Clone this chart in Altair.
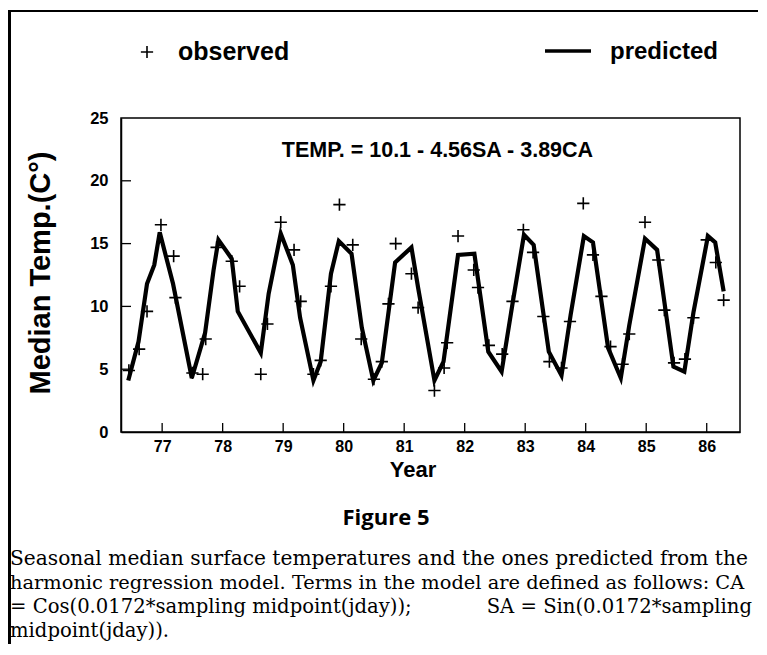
import altair as alt
import pandas as pd

# observed seasonal medians (year, temp)
obs_year = [76.45, 76.62, 76.75, 76.98, 77.19, 77.22, 77.50, 77.67, 77.72, 77.90,
            78.15, 78.28, 78.63, 78.74, 78.96, 79.18, 79.29, 79.50, 79.62, 79.79,
            79.93, 80.15, 80.29, 80.50, 80.63, 80.74, 80.86, 81.12, 81.23, 81.50,
            81.66, 81.71, 81.89, 82.15, 82.22, 82.40, 82.62, 82.79, 82.97, 83.13,
            83.30, 83.40, 83.60, 83.74, 83.96, 84.12, 84.26, 84.41, 84.61, 84.72,
            84.98, 85.20, 85.30, 85.46, 85.64, 85.78, 86.00, 86.15, 86.28]
obs_temp = [4.9, 6.6, 9.6, 16.5, 14.0, 10.7, 4.7, 4.6, 7.4, 14.7,
            13.6, 11.6, 4.6, 8.6, 16.7, 14.5, 10.4, 4.6, 5.7, 11.6,
            18.1, 14.9, 7.4, 4.2, 5.6, 10.2, 15.0, 12.6, 9.9, 3.3,
            5.1, 7.1, 15.6, 12.9, 11.5, 6.9, 6.2, 10.4, 16.1, 14.3,
            9.2, 5.6, 5.1, 8.8, 18.2, 14.1, 10.8, 6.8, 5.4, 7.8,
            16.7, 13.7, 9.7, 5.5, 5.8, 9.1, 15.3, 13.5, 10.5]

# predicted (harmonic regression) line vertices
pred_year = [76.44, 76.61, 76.75, 76.87, 76.96, 77.18, 77.49, 77.71, 77.85, 77.93,
             78.15, 78.25, 78.63, 78.76, 78.96, 79.16, 79.28, 79.50, 79.62, 79.79,
             79.92, 80.13, 80.30, 80.49, 80.63, 80.85, 81.12, 81.23, 81.50, 81.65,
             81.89, 82.16, 82.39, 82.61, 82.79, 82.98, 83.14, 83.39, 83.60, 83.75,
             83.97, 84.12, 84.37, 84.58, 84.72, 84.98, 85.18, 85.45, 85.63, 85.78,
             86.02, 86.14, 86.28]
pred_temp = [4.1, 7.2, 11.8, 13.3, 15.9, 11.8, 4.3, 7.9, 12.9, 15.3,
             13.8, 9.6, 6.3, 11.0, 15.8, 13.3, 9.1, 4.1, 5.6, 12.6,
             15.2, 14.2, 8.3, 4.1, 5.5, 13.5, 14.7, 11.5, 4.1, 5.6,
             14.1, 14.2, 6.4, 4.8, 10.2, 15.7, 14.9, 6.4, 4.5, 9.3,
             15.6, 15.1, 6.7, 4.3, 8.5, 15.4, 14.5, 5.2, 4.8, 9.5,
             15.6, 15.1, 11.2]

x_ticks = [77, 78, 79, 80, 81, 82, 83, 84, 85, 86]
y_ticks = [0, 5, 10, 15, 20, 25]
y_inner_ticks = [5, 10, 15, 20]

legend_labels = ["observed", "predicted"]
equation = "TEMP. = 10.1 - 4.56SA - 3.89CA"
x_title = "Year"
y_title = "Median Temp.(C°)"
fig_title = "Figure 5"
caption_lines = [
    "Seasonal median surface temperatures and the ones predicted from the",
    "harmonic regression model. Terms in the model are defined as follows: CA",
]
caption_l3a = "= Cos(0.0172*sampling midpoint(jday));"
caption_l3b = "SA = Sin(0.0172*sampling"
caption_l4 = "midpoint(jday))."

W, H = 619, 314
SANS = "Liberation Sans, Arial, Helvetica, sans-serif"
SERIF = "DejaVu Serif, serif"

obs_df = pd.DataFrame({"year": obs_year, "temp": obs_temp})
pred_df = pd.DataFrame({"year": pred_year, "temp": pred_temp})

xs = alt.Scale(domain=[76.32, 86.55], nice=False, zero=False)
ys = alt.Scale(domain=[0, 25], nice=False)

x_axis = alt.Axis(values=x_ticks, format="d", ticks=False, labelPadding=6,
                  labelFontSize=16, labelFontWeight="bold", labelFont=SANS,
                  labelColor="black", domainColor="black", domainWidth=1.5,
                  grid=False, title=None)
y_axis = alt.Axis(values=y_ticks, format="d", ticks=False, labelPadding=13,
                  labelFontSize=16.5, labelFontWeight="bold", labelFont=SANS,
                  labelColor="black", domainColor="black", domainWidth=1.5,
                  grid=False, title=None)

line = alt.Chart(pred_df).mark_line(color="black", strokeWidth=4.2, strokeJoin="miter").encode(
    x=alt.X("year:Q", scale=xs, axis=x_axis),
    y=alt.Y("temp:Q", scale=ys, axis=y_axis),
)

plus_shape = "M -1 0 L 1 0 M 0 -1 L 0 1"
points = alt.Chart(obs_df).mark_point(shape=plus_shape, size=150, color="black",
                                      strokeWidth=1.6, filled=False, opacity=1).encode(
    x=alt.X("year:Q", scale=xs),
    y=alt.Y("temp:Q", scale=ys),
)

xt = alt.Chart(pd.DataFrame({"v": x_ticks})).mark_rule(color="black", strokeWidth=1.3).encode(
    x=alt.X("v:Q", scale=xs), y=alt.value(H), y2=alt.value(H - 9))
yt = alt.Chart(pd.DataFrame({"v": y_inner_ticks})).mark_rule(color="black", strokeWidth=1.3).encode(
    y=alt.Y("v:Q", scale=ys), x=alt.value(0), x2=alt.value(10))

eq = alt.Chart(pd.DataFrame({"t": [equation], "x": [81.55], "y": [22.4]})).mark_text(
    font=SANS, fontSize=21.5, fontWeight="bold", color="black", align="center", baseline="middle"
).encode(x=alt.X("x:Q", scale=xs), y=alt.Y("y:Q", scale=ys), text="t:N")

one = pd.DataFrame({"a": [0]})

def txt(s, x, y, size, font=SANS, weight="bold", align="left", angle=0):
    return alt.Chart(one).mark_text(text=s, font=font, fontSize=size, fontWeight=weight,
                                    color="black", align=align, baseline="middle",
                                    angle=angle).encode(x=alt.value(x), y=alt.value(y))

leg_plus = alt.Chart(one).mark_point(shape=plus_shape, size=150, color="black",
                                     strokeWidth=1.6, filled=False, opacity=1).encode(
    x=alt.value(26), y=alt.value(-66))
leg_line = alt.Chart(one).mark_rule(color="black", strokeWidth=3.5).encode(
    x=alt.value(424), x2=alt.value(470), y=alt.value(-67))

layers = [
    line, points, xt, yt, eq, leg_plus, leg_line,
    txt(legend_labels[0], 57, -66, 25),
    txt(legend_labels[1], 489, -66, 24),
    txt(x_title, 292, 352, 22, align="center"),
    txt(y_title, -80, 155, 29, align="center", angle=270),
    txt(fig_title, 265, 400, 22, font="Open Sans, Lato, sans-serif", align="center"),
    txt(caption_lines[0], -111, 441, 20.2, font=SERIF, weight="normal"),
    txt(caption_lines[1], -111, 465, 19.4, font=SERIF, weight="normal"),
    txt(caption_l3a, -111, 489, 19.6, font=SERIF, weight="normal"),
    txt(caption_l3b, 631, 489, 19.6, font=SERIF, weight="normal", align="right"),
    txt(caption_l4, -111, 513, 19.6, font=SERIF, weight="normal"),
]

# figure frame (top and left border)
frame_top = alt.Chart(one).mark_rule(color="black", strokeWidth=2.2).encode(
    x=alt.value(-113), x2=alt.value(638), y=alt.value(-107))
frame_left = alt.Chart(one).mark_rule(color="black", strokeWidth=3).encode(
    x=alt.value(-111.5), y=alt.value(-108), y2=alt.value(536))
layers += [frame_top, frame_left]

chart = alt.layer(*layers).properties(
    width=W, height=H,
    autosize=alt.AutoSizeParams(type="none"),
    padding={"left": 113, "top": 110, "right": 18, "bottom": 212},
    background="white",
).configure_view(stroke="black", strokeWidth=1.5)

chart.save("out.html", embed_options={"renderer": "svg", "actions": False})
